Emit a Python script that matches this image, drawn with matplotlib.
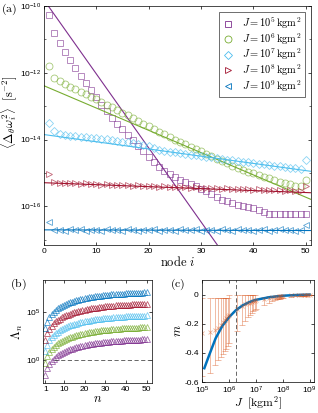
import numpy as np
import matplotlib
matplotlib.use('Agg')
import matplotlib.pyplot as plt
from matplotlib.ticker import LogLocator, NullFormatter, FixedLocator

plt.rcParams['font.family'] = ['Liberation Sans', 'DejaVu Sans']
plt.rcParams['mathtext.fontset'] = 'cm'
plt.rcParams['font.size'] = 6
plt.rcParams['axes.linewidth'] = 0.5
plt.rcParams['xtick.direction'] = 'in'
plt.rcParams['ytick.direction'] = 'in'
plt.rcParams['xtick.top'] = True
plt.rcParams['ytick.right'] = True
plt.rcParams['xtick.major.width'] = 0.5
plt.rcParams['ytick.major.width'] = 0.5
plt.rcParams['xtick.minor.width'] = 0.4
plt.rcParams['ytick.minor.width'] = 0.4
plt.rcParams['xtick.major.size'] = 2.5
plt.rcParams['ytick.major.size'] = 2.5
plt.rcParams['xtick.minor.size'] = 1.5
plt.rcParams['ytick.minor.size'] = 1.5
plt.rcParams['xtick.major.pad'] = 2
plt.rcParams['ytick.major.pad'] = 2

# ---- panel (a): log10 <dw^2> per node ----
nodes = np.arange(1, 51)
J_labels = ['5', '6', '7', '8', '9']
cols = ['#7E2F8E', '#77AC30', '#4DBEEE', '#A2142F', '#0072BD']
marks = ['s', 'o', 'D', '>', '<']

a_J5 = [-10.27, -10.82, -11.11, -11.39, -11.63, -11.86, -12.09, -12.31, -12.53, -12.74,
        -12.96, -13.16, -13.35, -13.52, -13.68, -13.85, -14.01, -14.18, -14.35, -14.52,
        -14.68, -14.82, -14.93, -15.04, -15.12, -15.2, -15.27, -15.33, -15.4, -15.47,
        -15.55, -15.63, -15.72, -15.8, -15.85, -15.9, -15.95, -15.99, -16.02, -16.05,
        -16.1, -16.16, -16.22, -16.22, -16.22, -16.22, -16.22, -16.22, -16.22, -16.22]
a_J6 = [-11.81, -12.16, -12.26, -12.33, -12.42, -12.49, -12.57, -12.64, -12.72, -12.8,
        -12.88, -12.96, -13.04, -13.12, -13.2, -13.28, -13.36, -13.44, -13.52, -13.6,
        -13.68, -13.76, -13.84, -13.92, -14.0, -14.07, -14.14, -14.21, -14.28, -14.35,
        -14.43, -14.5, -14.57, -14.64, -14.71, -14.78, -14.84, -14.9, -14.96, -15.01,
        -15.06, -15.11, -15.16, -15.21, -15.26, -15.3, -15.34, -15.38, -15.4, -15.22]
a_J7 = [-13.5, -13.75, -13.84, -13.86, -13.88, -13.89, -13.91, -13.92, -13.94, -13.95,
        -13.97, -13.99, -14.01, -14.03, -14.06, -14.08, -14.1, -14.13, -14.16, -14.2,
        -14.25, -14.3, -14.33, -14.36, -14.38, -14.41, -14.43, -14.45, -14.47, -14.49,
        -14.51, -14.53, -14.55, -14.57, -14.6, -14.62, -14.64, -14.66, -14.68, -14.7,
        -14.72, -14.74, -14.76, -14.78, -14.8, -14.82, -14.84, -14.86, -14.88, -14.6]
a_J8 = [-15.04, -15.27, -15.29, -15.3, -15.3, -15.31, -15.33, -15.31, -15.34, -15.33,
        -15.35, -15.34, -15.36, -15.35, -15.37, -15.36, -15.38, -15.37, -15.39, -15.4,
        -15.39, -15.41, -15.4, -15.42, -15.41, -15.43, -15.42, -15.44, -15.43, -15.45,
        -15.44, -15.46, -15.45, -15.47, -15.46, -15.48, -15.47, -15.49, -15.48, -15.5,
        -15.49, -15.51, -15.5, -15.52, -15.51, -15.53, -15.52, -15.54, -15.55, -15.38]
a_J9 = [-16.47, -16.69, -16.7, -16.72, -16.68, -16.71, -16.66, -16.72, -16.69, -16.7,
        -16.73, -16.67, -16.71, -16.69, -16.72, -16.68, -16.7, -16.73, -16.69, -16.71,
        -16.67, -16.72, -16.7, -16.69, -16.73, -16.68, -16.71, -16.7, -16.66, -16.72,
        -16.69, -16.71, -16.73, -16.68, -16.7, -16.72, -16.67, -16.71, -16.69, -16.73,
        -16.7, -16.68, -16.72, -16.7, -16.66, -16.71, -16.69, -16.73, -16.7, -16.55]
a_data = [a_J5, a_J6, a_J7, a_J8, a_J9]

fit_x = [0, 51]
fit_J5 = [-9.82, -21.11]
fit_J6 = [-12.39, -15.79]
fit_J7 = [-13.85, -14.95]
fit_J8 = [-15.29, -15.59]
fit_J9 = [-16.70, -16.72]
fits = [fit_J5, fit_J6, fit_J7, fit_J8, fit_J9]

# ---- panel (b): log10 Lambda_n ----
n_modes = np.arange(1, 51)
b_J5 = [-1.55, -0.86, -0.41, -0.10, 0.14, 0.33, 0.49, 0.63, 0.75, 0.86,
        0.95, 1.04, 1.12, 1.19, 1.26, 1.32, 1.38, 1.44, 1.50, 1.55,
        1.59, 1.63, 1.67, 1.71, 1.74, 1.76, 1.79, 1.82, 1.85, 1.88,
        1.90, 1.92, 1.94, 1.96, 1.98, 2.00, 2.01, 2.03, 2.04, 2.06,
        2.07, 2.08, 2.09, 2.10, 2.11, 2.12, 2.13, 2.14, 2.15, 2.16]
b_J6 = [-0.30, 0.39, 0.84, 1.15, 1.39, 1.58, 1.74, 1.88, 2.00, 2.11,
        2.20, 2.29, 2.37, 2.44, 2.51, 2.57, 2.63, 2.69, 2.75, 2.80,
        2.84, 2.88, 2.92, 2.96, 2.99, 3.01, 3.04, 3.07, 3.10, 3.13,
        3.15, 3.17, 3.19, 3.21, 3.23, 3.25, 3.26, 3.28, 3.29, 3.31,
        3.32, 3.33, 3.34, 3.35, 3.36, 3.37, 3.38, 3.39, 3.40, 3.41]
b_J7 = [0.92, 1.61, 2.06, 2.37, 2.61, 2.80, 2.96, 3.10, 3.22, 3.33,
        3.42, 3.51, 3.59, 3.66, 3.73, 3.79, 3.85, 3.91, 3.97, 4.02,
        4.06, 4.10, 4.14, 4.18, 4.21, 4.23, 4.26, 4.29, 4.32, 4.35,
        4.37, 4.39, 4.41, 4.43, 4.45, 4.47, 4.48, 4.50, 4.51, 4.53,
        4.54, 4.55, 4.56, 4.57, 4.58, 4.59, 4.60, 4.61, 4.62, 4.63]
b_J8 = [2.13, 2.82, 3.27, 3.58, 3.82, 4.01, 4.17, 4.31, 4.43, 4.54,
        4.63, 4.72, 4.80, 4.87, 4.94, 5.00, 5.06, 5.12, 5.18, 5.23,
        5.27, 5.31, 5.35, 5.39, 5.42, 5.44, 5.47, 5.50, 5.53, 5.56,
        5.58, 5.60, 5.62, 5.64, 5.66, 5.68, 5.69, 5.71, 5.72, 5.74,
        5.75, 5.76, 5.77, 5.78, 5.79, 5.80, 5.81, 5.82, 5.83, 5.84]
b_J9 = [3.31, 4.00, 4.45, 4.76, 5.00, 5.19, 5.35, 5.49, 5.61, 5.72,
        5.81, 5.90, 5.98, 6.05, 6.12, 6.18, 6.24, 6.30, 6.36, 6.41,
        6.45, 6.49, 6.53, 6.57, 6.60, 6.62, 6.65, 6.68, 6.71, 6.74,
        6.76, 6.78, 6.80, 6.82, 6.84, 6.86, 6.87, 6.89, 6.90, 6.92,
        6.93, 6.94, 6.95, 6.96, 6.97, 6.98, 6.99, 7.00, 7.01, 7.02]
b_data = [b_J5, b_J6, b_J7, b_J8, b_J9]

# ---- panel (c): exponent m vs J ----
J_pts = [1e5, 2e5, 3e5, 4e5, 5e5, 6e5, 7e5, 8e5, 9e5,
         1e6, 2e6, 3e6, 4e6, 5e6, 6e6, 7e6, 8e6, 9e6,
         1e7, 2e7, 3e7, 4e7, 5e7, 6e7, 7e7, 8e7, 9e7,
         1e8, 2e8, 3e8, 4e8, 5e8, 6e8, 7e8, 8e8, 9e8, 1e9]
m_pts = [-0.265, -0.26, -0.245, -0.23, -0.21, -0.19, -0.175, -0.16, -0.15,
         -0.14, -0.1, -0.08, -0.068, -0.06, -0.055, -0.05, -0.046, -0.043,
         -0.04, -0.027, -0.021, -0.018, -0.016, -0.014, -0.012, -0.011, -0.01,
         -0.009, -0.006, -0.005, -0.004, -0.004, -0.003, -0.003, -0.002, -0.002, -0.001]
m_lo = [-0.56, -0.54, -0.48, -0.45, -0.43, -0.41, -0.385, -0.37, -0.35,
        -0.33, -0.25, -0.21, -0.18, -0.156, -0.14, -0.128, -0.116, -0.105,
        -0.1, -0.07, -0.055, -0.045, -0.038, -0.033, -0.03, -0.027, -0.025,
        -0.023, -0.015, -0.012, -0.01, -0.009, -0.008, -0.007, -0.006, -0.006, -0.005]
m_hi = [-0.02, -0.02, -0.02, -0.02, -0.02, -0.02, -0.02, -0.02, -0.02,
        0.0, 0.0, 0.0, 0.0, 0.0, 0.0, 0.0, 0.0, 0.0,
        -0.03, -0.018, -0.012, -0.009, -0.008, -0.006, -0.005, -0.004, -0.004,
        -0.003, -0.001, 0.0, 0.0, 0.0, 0.0, 0.0, 0.0, 0.0, 0.0]
J_curve = [1.2e5, 1.78e5, 3.16e5, 5.62e5, 1e6, 1.78e6, 3.16e6, 5.62e6, 1e7,
           3.16e7, 1e8, 3.16e8, 1e9]
m_curve = [-0.505, -0.42, -0.30, -0.215, -0.155, -0.108, -0.075, -0.052, -0.036,
           -0.018, -0.008, -0.003, 0.0]
J_dash = 1.8e6

fig = plt.figure(figsize=(3.18, 4.13), dpi=100)

# (a)
ax = fig.add_axes([0.138, 0.407, 0.840, 0.579])
for d, f, c, mk, lab in zip(a_data, fits, cols, marks, J_labels):
    ax.plot(fit_x, 10.0 ** np.array(f), '-', color=c, lw=0.8)
    ax.plot(nodes, 10.0 ** np.array(d), mk, mfc='none', mec=c, alpha=0.65,
            ms=5.0 if mk != 'D' else 4.3, mew=0.6,
            label=r'$J = 10^{%s}\,\mathrm{kgm}^2$' % lab)
ax.set_yscale('log')
ax.set_xlim(0, 51)
ax.set_ylim(10 ** -17.15, 1e-10)
ax.set_xticks([0, 10, 20, 30, 40, 50])
ax.yaxis.set_major_locator(FixedLocator([1e-16, 1e-14, 1e-12, 1e-10]))
ax.yaxis.set_minor_locator(LogLocator(base=10, subs=(1.0,), numticks=20))
ax.yaxis.set_minor_formatter(NullFormatter())
ax.set_xlabel(r'$\mathrm{node}\ i$', fontsize=9, labelpad=0)
fig.text(10 / 318, 1 - 112 / 413,
         r'$\langle \Delta_\theta\omega_i^2\rangle\ \ [\mathrm{s}^{-2}]$',
         fontsize=9, rotation=90, ha='center', va='center')
leg = ax.legend(loc='upper right', fontsize=7.5, frameon=True, fancybox=False,
                edgecolor='k', handlelength=1.0, handletextpad=0.8,
                borderaxespad=0.6, labelspacing=0.0, borderpad=0.35)
leg.get_frame().set_linewidth(0.5)
for h in leg.legend_handles:
    h.set_alpha(1)
fig.text(0.003, 0.972, r'$\mathrm{(a)}$', fontsize=8.5)

# (b)
axb = fig.add_axes([0.136, 0.072, 0.341, 0.250])
for d, c in zip(b_data, cols):
    axb.plot(n_modes, 10.0 ** np.array(d), '^', mfc='none', mec=c, alpha=0.7,
             ms=4.2, mew=0.6)
axb.plot([5, 52.5], [1, 1], '--', color='0.3', lw=0.6, dashes=(5, 3))
axb.set_yscale('log')
axb.set_xlim(0, 52.5)
axb.set_ylim(10 ** -2.4, 10 ** 8.3)
axb.set_xticks([1, 10, 20, 30, 40, 50])
axb.yaxis.set_major_locator(FixedLocator([1e0, 1e5]))
axb.yaxis.set_minor_locator(FixedLocator([]))
axb.set_xlabel(r'$n$', fontsize=9, labelpad=0)
axb.set_ylabel(r'$\Lambda_n$', fontsize=9, labelpad=1)
fig.text(0.03, 0.305, r'$\mathrm{(b)}$', fontsize=8.5)

# (c)
axc = fig.add_axes([0.634, 0.075, 0.352, 0.247])
m_pts_a = np.array(m_pts)
yerr = [m_pts_a - np.array(m_lo), np.array(m_hi) - m_pts_a]
axc.errorbar(J_pts, m_pts, yerr=yerr, fmt='x', color='#D95319', alpha=0.45,
             ms=2.5, mew=0.6, elinewidth=0.6, capsize=2.0, capthick=0.6)
axc.plot(J_curve, m_curve, '-', color='#0072BD', lw=1.8)
axc.axvline(J_dash, color='0.3', ls='--', lw=0.6, dashes=(5, 3))
axc.set_xscale('log')
axc.set_xlim(1e5 * 0.95, 10 ** 9.15)
axc.set_ylim(-0.6, 0.1)
axc.set_xticks([1e5, 1e6, 1e7, 1e8, 1e9])
axc.xaxis.set_minor_locator(FixedLocator([]))
axc.set_yticks([-0.6, -0.4, -0.2, 0])
axc.set_yticklabels(['-0.6', '-0.4', '-0.2', '0'])
axc.set_xlabel(r'$J\ \ [\mathrm{kgm}^2]$', fontsize=8.5, labelpad=-1)
axc.set_ylabel(r'$m$', fontsize=9, labelpad=0)
fig.text(0.535, 0.305, r'$\mathrm{(c)}$', fontsize=8.5)

fig.savefig('out.png', dpi=100)
